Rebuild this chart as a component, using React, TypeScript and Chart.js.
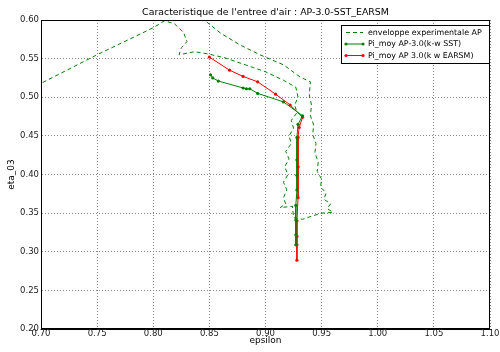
import React, { useEffect, useRef } from 'react';
import { Chart, registerables } from 'chart.js';

Chart.register(...registerables);

const TITLE = "Caracteristique de l'entree d'air : AP-3.0-SST_EARSM";
const X_LABEL = 'epsilon';
const Y_LABEL = 'eta_03';
const LEGEND_LABELS = ['enveloppe experimentale AP', 'Pi_moy AP-3.0(k-w SST)', 'Pi_moy AP 3.0(k w EARSM)'];

const envelopeX = [
  0.690, 0.700, 0.750, 0.800, 0.810, 0.819, 0.827, 0.830, 0.825, 0.823, 0.837, 0.849, 0.864, 0.882, 0.900, 0.916, 0.927,
  0.929, 0.926, 0.928, 0.923, 0.925, 0.921, 0.923, 0.918, 0.921, 0.917, 0.920, 0.916, 0.919, 0.916, 0.918, 0.913,
  0.924, 0.925, 0.933, 0.941, 0.950, 0.960,
  0.955, 0.958, 0.952, 0.954, 0.949, 0.950, 0.946, 0.947, 0.944, 0.945, 0.942, 0.943, 0.940, 0.941, 0.939, 0.940,
  0.931, 0.916, 0.895, 0.877, 0.860, 0.848, 0.844,
];
const envelopeY = [
  0.512, 0.518, 0.555, 0.590, 0.599, 0.595, 0.584, 0.572, 0.564, 0.555, 0.559, 0.556, 0.551, 0.542, 0.533, 0.522, 0.513,
  0.500, 0.490, 0.480, 0.470, 0.460, 0.450, 0.440, 0.430, 0.420, 0.410, 0.400, 0.390, 0.380, 0.370, 0.362, 0.357,
  0.359, 0.344, 0.342, 0.346, 0.350, 0.351,
  0.356, 0.362, 0.368, 0.376, 0.384, 0.394, 0.404, 0.416, 0.428, 0.440, 0.452, 0.464, 0.476, 0.490, 0.503, 0.520,
  0.526, 0.542, 0.555, 0.568, 0.583, 0.597, 0.603,
];

const sstX = [0.851, 0.853, 0.858, 0.880, 0.883, 0.886, 0.893, 0.916, 0.933, 0.929, 0.928, 0.928, 0.928, 0.928, 0.927, 0.927, 0.927, 0.927];
const sstY = [0.529, 0.525, 0.521, 0.512, 0.511, 0.511, 0.505, 0.494, 0.476, 0.465, 0.448, 0.419, 0.399, 0.380, 0.360, 0.341, 0.322, 0.309];

const earsmX = [0.850, 0.868, 0.880, 0.893, 0.909, 0.922, 0.933, 0.930, 0.929, 0.929, 0.929, 0.928, 0.928, 0.928, 0.928];
const earsmY = [0.552, 0.535, 0.527, 0.520, 0.504, 0.490, 0.474, 0.461, 0.448, 0.410, 0.370, 0.340, 0.320, 0.309, 0.289];

const X_MIN = 0.7, X_MAX = 1.1, Y_MIN = 0.2, Y_MAX = 0.6, STEP = 0.05;

const GREEN = '#008000';
const RED = '#ff0000';
const FONT = "'DejaVu Sans', sans-serif";

const pts = (xs: number[], ys: number[]) => xs.map((x, i) => ({ x, y: ys[i] }));

const decorPlugin = {
  id: 'decor',
  afterDraw(chart: any) {
    const { ctx, chartArea: a } = chart;
    ctx.save();
    ctx.strokeStyle = '#000';
    ctx.lineWidth = 1;
    ctx.setLineDash([]);
    ctx.strokeRect(Math.round(a.left) + 0.5, Math.round(a.top) + 0.5, Math.round(a.right - a.left) - 1, Math.round(a.bottom - a.top) - 1);
    ctx.fillStyle = '#000';
    ctx.font = `9.4px ${FONT}`;
    ctx.textAlign = 'center';
    ctx.textBaseline = 'middle';
    ctx.fillText(TITLE, (a.left + a.right) / 2, 13);
    ctx.font = `9px ${FONT}`;
    ctx.fillText(X_LABEL, (a.left + a.right) / 2, 341);
    ctx.save();
    ctx.translate(12, (a.top + a.bottom) / 2);
    ctx.rotate(-Math.PI / 2);
    ctx.fillText(Y_LABEL, 0, 0);
    ctx.restore();
    const lx = 341, ly = 25, lw = 148, lh = 38;
    ctx.fillStyle = '#fff';
    ctx.fillRect(lx, ly, lw, lh);
    ctx.strokeStyle = '#000';
    ctx.strokeRect(lx + 0.5, ly + 0.5, lw, lh);
    const rows = [
      { color: GREEN, dash: [4, 3], marker: false },
      { color: GREEN, dash: [], marker: true },
      { color: RED, dash: [], marker: true },
    ];
    ctx.font = `7.9px ${FONT}`;
    ctx.textAlign = 'left';
    rows.forEach((r, i) => {
      const y = ly + 7.5 + i * 11.5;
      ctx.strokeStyle = r.color;
      ctx.lineWidth = 1;
      ctx.setLineDash(r.dash);
      ctx.beginPath();
      ctx.moveTo(lx + 5, y);
      ctx.lineTo(lx + 22, y);
      ctx.stroke();
      ctx.setLineDash([]);
      if (r.marker) {
        ctx.fillStyle = r.color;
        [lx + 5, lx + 22].forEach((mx) => {
          ctx.beginPath();
          ctx.arc(mx, y, 1.6, 0, Math.PI * 2);
          ctx.fill();
        });
      }
      ctx.fillStyle = '#000';
      ctx.fillText(LEGEND_LABELS[i], lx + 27, y);
    });
    ctx.restore();
  },
};

export default function App() {
  const ref = useRef<HTMLCanvasElement | null>(null);
  useEffect(() => {
    if (!ref.current) return;
    const chart = new Chart(ref.current, {
      type: 'scatter',
      data: {
        datasets: [
          {
            label: LEGEND_LABELS[0],
            data: pts(envelopeX, envelopeY),
            showLine: true,
            borderColor: GREEN,
            borderWidth: 1,
            borderDash: [4, 3],
            pointRadius: 0,
            tension: 0,
          },
          {
            label: LEGEND_LABELS[1],
            data: pts(sstX, sstY),
            showLine: true,
            borderColor: GREEN,
            backgroundColor: GREEN,
            borderWidth: 1,
            pointRadius: 1.6,
            pointBorderWidth: 0,
            tension: 0,
          },
          {
            label: LEGEND_LABELS[2],
            data: pts(earsmX, earsmY),
            showLine: true,
            borderColor: RED,
            backgroundColor: RED,
            borderWidth: 1,
            pointRadius: 1.6,
            pointBorderWidth: 0,
            tension: 0,
          },
        ],
      },
      options: {
        responsive: false,
        animation: false,
        devicePixelRatio: 1,
        layout: { padding: { top: 20, right: 10, left: 0, bottom: 0 } },
        plugins: { legend: { display: false }, title: { display: false }, tooltip: { enabled: false } },
        scales: {
          x: {
            type: 'linear',
            min: X_MIN,
            max: X_MAX,
            ticks: {
              stepSize: STEP,
              padding: 0,
              color: '#222',
              font: { family: FONT, size: 8.5 },
              maxRotation: 0,
              autoSkip: false,
              callback: (v: any) => Number(v).toFixed(2),
            },
            grid: { color: '#888', lineWidth: 1, drawTicks: false },
            border: { color: '#000', width: 1, dash: [1, 2] },
            afterFit: (s: any) => { s.height = 23; },
          },
          y: {
            type: 'linear',
            min: Y_MIN,
            max: Y_MAX,
            ticks: {
              stepSize: STEP,
              padding: 2,
              color: '#222',
              font: { family: FONT, size: 8.5 },
              autoSkip: false,
              callback: (v: any) => Number(v).toFixed(2),
            },
            grid: { color: '#888', lineWidth: 1, drawTicks: false },
            border: { color: '#000', width: 1, dash: [1, 2] },
            afterFit: (s: any) => { s.width = 41; },
          },
        },
      },
      plugins: [decorPlugin],
    } as any);
    return () => chart.destroy();
  }, []);
  return (
    <div style={{ position: 'fixed', left: 0, top: 0, width: 500, height: 352, background: '#fff' }}>
      <canvas ref={ref} width={500} height={352} />
    </div>
  );
}
